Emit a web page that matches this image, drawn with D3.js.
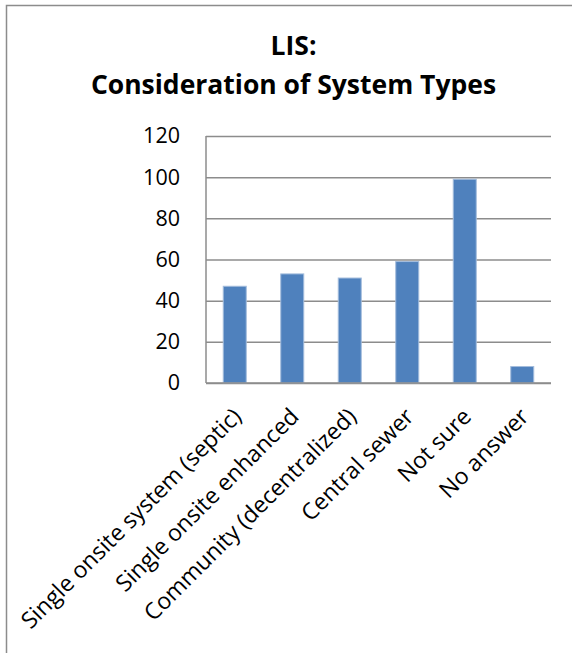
<!DOCTYPE html>
<html>
<head>
<meta charset="utf-8">
<script src="https://cdn.jsdelivr.net/npm/d3@7"></script>
<style>
  html, body { margin: 0; padding: 0; background: #fff; }
  svg { display: block; font-family: "Open Sans", "Liberation Sans", sans-serif; }
</style>
</head>
<body>
<svg id="chart" width="572" height="653"></svg>
<script>
// Chart data
const titleLines = ["LIS:", "Consideration of System Types"];
const categories = [
    "Single onsite system (septic)",
    "Single onsite enhanced",
    "Community (decentralized)",
    "Central sewer",
    "Not sure",
    "No answer"
];
const counts = [47, 53, 51, 59, 99, 8];
const yTicks = [0, 20, 40, 60, 80, 100, 120];

const width = 572;
const height = 653;
const plot = { left: 206, right: 551, top: 136, bottom: 383 };

const svg = d3.select("#chart");

// Chart area border (only left and top edges fall inside the picture)
svg.append("path")
    .attr("d", `M6.5,${height} V5.5 H${width}`)
    .attr("fill", "none")
    .attr("stroke", "#8c8c8c")
    .attr("stroke-width", 1.5);

// Title
svg.append("g")
    .selectAll("text")
    .data(titleLines)
    .join("text")
    .attr("x", 293.5)
    .attr("y", (d, i) => i === 0 ? 55 : 94)
    .attr("text-anchor", "middle")
    .attr("font-weight", "bold")
    .attr("font-size", 26.5)
    .attr("fill", "#000")
    .text(d => d);

// Scales
const x = d3.scaleBand()
    .domain(categories)
    .range([plot.left, plot.right])
    .paddingInner(0.6)
    .paddingOuter(0.3);

const y = d3.scaleLinear()
    .domain([0, 120])
    .range([plot.bottom, plot.top]);

// Gridlines
svg.append("g")
    .attr("transform", `translate(${plot.left},0)`)
    .call(d3.axisLeft(y).tickValues(yTicks).tickSize(-(plot.right - plot.left)).tickFormat(""))
    .call(g => g.select(".domain").remove())
    .call(g => g.selectAll(".tick line").attr("stroke", "#8c8c8c").attr("stroke-width", 1.5));

// Y labels
svg.append("g")
    .attr("transform", `translate(${plot.left},0)`)
    .call(d3.axisLeft(y).tickValues(yTicks).tickSize(0).tickPadding(26))
    .call(g => g.select(".domain").remove())
    .call(g => g.selectAll(".tick text")
        .attr("font-family", "'Open Sans', sans-serif")
        .attr("font-size", 21.5)
        .attr("fill", "#000"));

// Bars
svg.append("g")
    .selectAll("rect")
    .data(counts)
    .join("rect")
    .attr("x", (d, i) => x(categories[i]))
    .attr("y", d => y(d))
    .attr("width", x.bandwidth())
    .attr("height", d => y(0) - y(d))
    .attr("fill", "#4f81bd")
    .attr("stroke", "#a3bcdc")
    .attr("stroke-width", 1);

// Axis lines
svg.append("line")
    .attr("x1", plot.left).attr("x2", plot.left)
    .attr("y1", plot.top).attr("y2", plot.bottom)
    .attr("stroke", "#8c8c8c").attr("stroke-width", 1.5);
svg.append("line")
    .attr("x1", plot.left).attr("x2", plot.right)
    .attr("y1", plot.bottom).attr("y2", plot.bottom)
    .attr("stroke", "#8c8c8c").attr("stroke-width", 1.5);

// X labels, rotated 45 degrees
svg.append("g")
    .selectAll("text")
    .data(categories)
    .join("text")
    .attr("transform", d => `translate(${x(d) + x.bandwidth() / 2 + 8},418) rotate(-45)`)
    .attr("text-anchor", "end")
    .attr("font-size", 23)
    .attr("fill", "#000")
    .text(d => d);
</script>
</body>
</html>
